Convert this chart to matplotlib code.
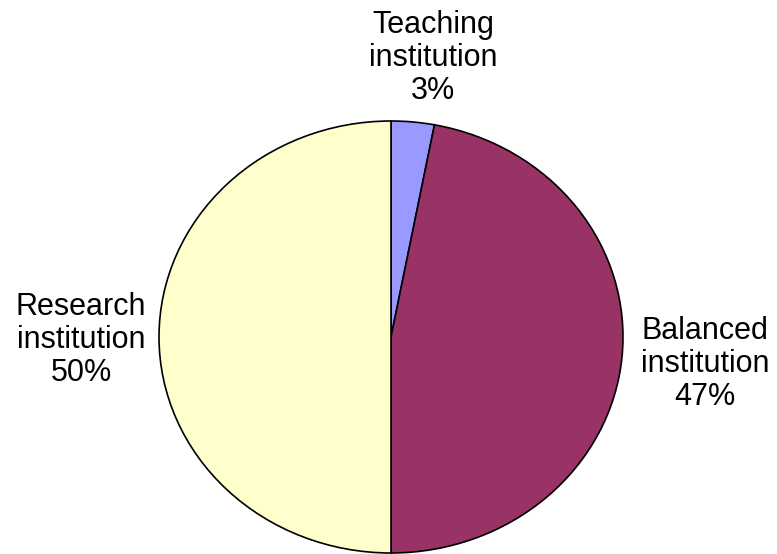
import matplotlib
matplotlib.use("Agg")
import matplotlib.pyplot as plt

categories = ["Teaching\ninstitution", "Balanced\ninstitution", "Research\ninstitution"]
values = [3, 47, 50]
colors = ["#9999FF", "#993366", "#FFFFCC"]

W, H = 777, 554
fig = plt.figure(figsize=(W / 100, H / 100), dpi=100)
ax = fig.add_axes([0, 0, 1, 1])

ax.pie(values, colors=colors, startangle=90, counterclock=False, radius=1,
       wedgeprops=dict(edgecolor="black", linewidth=1.2))

# ellipse as in reference: center (391, 337) px, rx=232, ry=216
cx, cy, rx, ry = 391, 337, 232, 216
ax.set_aspect("auto")
ax.set_xlim(-cx / rx, (W - cx) / rx)
ax.set_ylim(-(H - cy) / ry, cy / ry)
ax.axis("off")

label_pos = [(433, 58), (705, 364), (81, 340)]
for cat, v, (px, py) in zip(categories, values, label_pos):
    fig.text(px / W, 1 - py / H, f"{cat}\n{v}%", ha="center", va="center",
             fontsize=22, family="Liberation Sans", linespacing=1.14)

fig.savefig("out.png", dpi=100)
